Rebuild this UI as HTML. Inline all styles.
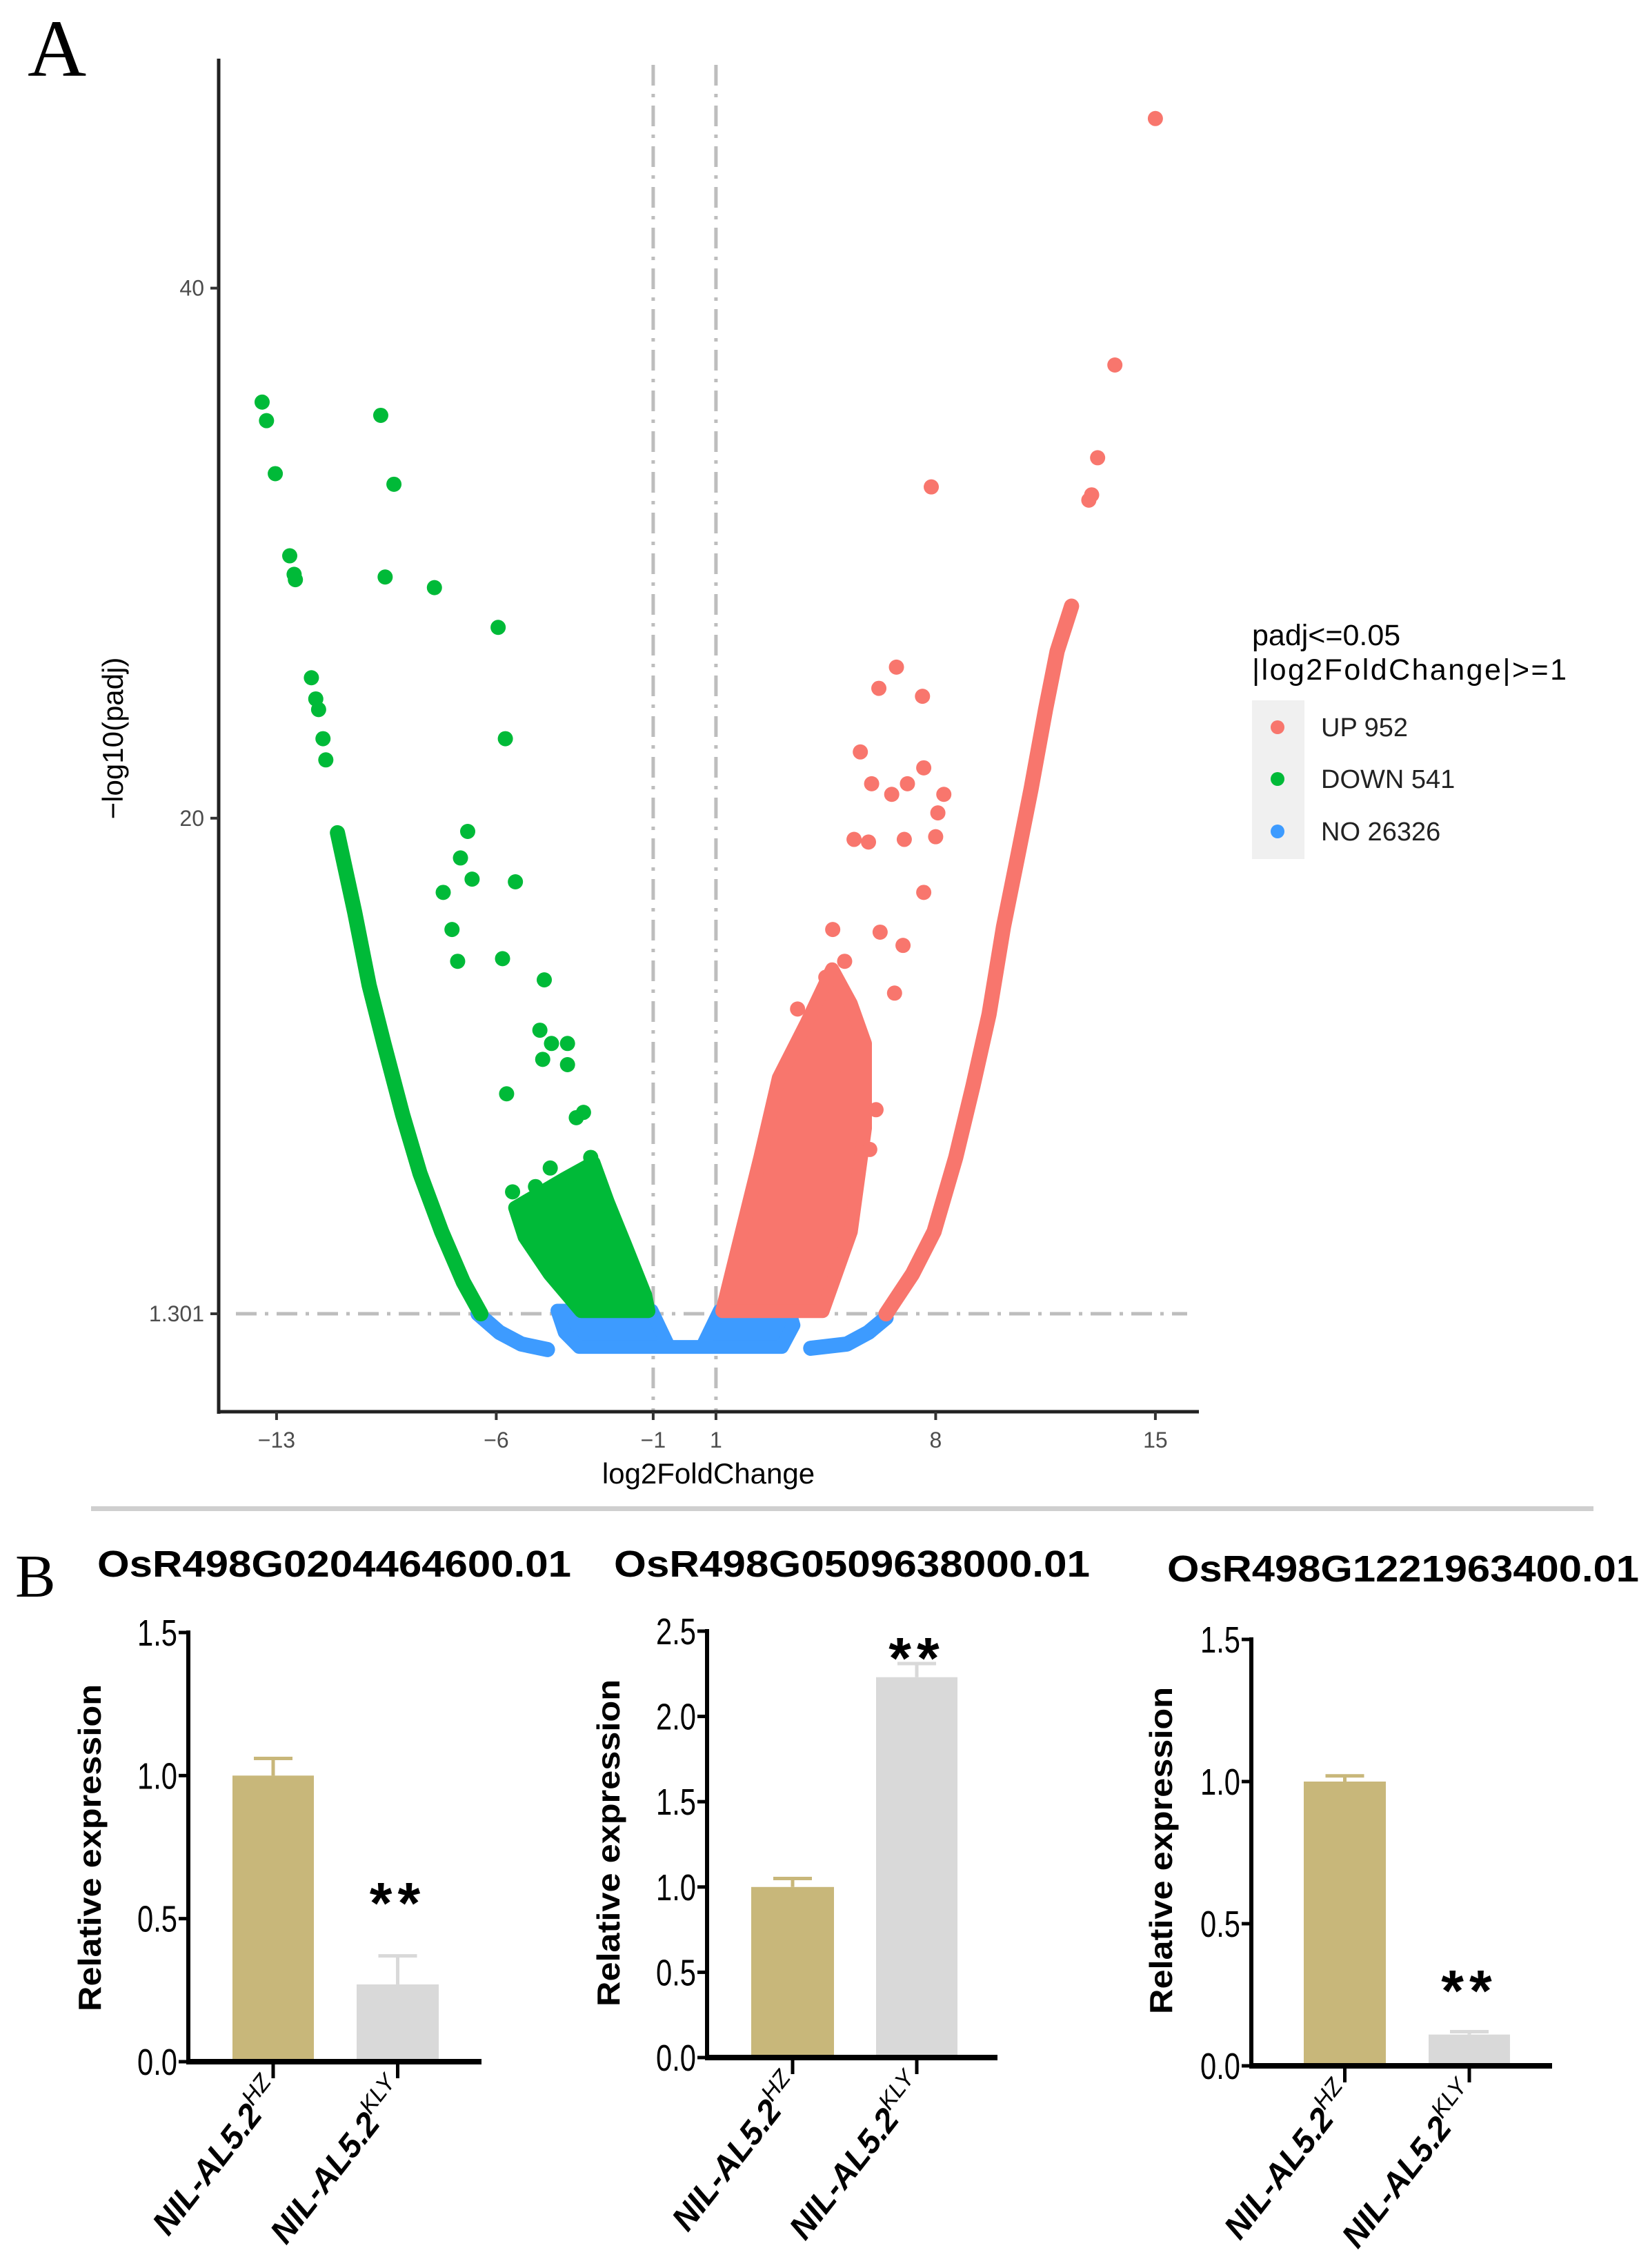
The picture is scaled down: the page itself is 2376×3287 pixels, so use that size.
<!DOCTYPE html>
<html><head><meta charset="utf-8">
<style>
html,body{margin:0;padding:0;background:#fff;}
svg{display:block;font-family:"Liberation Sans",sans-serif;}
</style></head>
<body>
<svg id="fig" width="2376" height="3287" viewBox="0 0 2376 3287" xmlns="http://www.w3.org/2000/svg">
<text x="40" y="110" font-family="Liberation Serif" font-size="118" fill="#000">A</text>
<g id="volcano"></g>
<g>
 <text x="1815" y="935" font-size="43" fill="#000">padj&lt;=0.05</text>
 <text x="1815" y="985" font-size="43" fill="#000" textLength="456">|log2FoldChange|&gt;=1</text>
 <rect x="1815" y="1015" width="76" height="230" fill="#f0f0f0"/>
 <circle cx="1852" cy="1054" r="10" fill="#F8766D"/>
 <circle cx="1852" cy="1129" r="10" fill="#00BA38"/>
 <circle cx="1852" cy="1205" r="10" fill="#3d9bff"/>
 <text x="1915" y="1067" font-size="38" fill="#222">UP 952</text>
 <text x="1915" y="1142" font-size="38" fill="#222">DOWN 541</text>
 <text x="1915" y="1218" font-size="38" fill="#222">NO 26326</text>
</g>
<rect x="132" y="2183" width="2178" height="7" fill="#cfcfcf"/>
<text x="22" y="2314" font-family="Liberation Serif" font-size="88" fill="#000">B</text>
<g id="bars"></g>
</svg>
<script>
// ---------- Volcano data (log2FoldChange, -log10 padj) ----------
const xTicks = [-13, -6, -1, 1, 8, 15];
const yTicks = [40, 20, 1.301];
const vLines = [-1, 1];
const hLine = 1.301;
const greenDots = [[-13.46,35.7],[-13.32,35.0],[-13.04,33.0],[-12.58,29.9],[-12.44,29.2],[-12.40,29.0],[-11.89,25.3],[-11.75,24.5],[-11.66,24.1],[-11.52,23.0],[-11.43,22.2],[-9.68,35.2],[-9.26,32.6],[-9.54,29.1],[-7.97,28.7],[-5.94,27.2],[-5.71,23.0],[-6.91,19.5],[-7.14,18.5],[-7.69,17.2],[-6.77,17.7],[-7.41,15.8],[-5.39,17.6],[-7.23,14.6],[-5.80,14.7],[-4.47,13.9],[-4.61,12.0],[-4.24,11.5],[-3.73,11.5],[-4.52,10.9],[-3.73,10.7],[-5.67,9.6],[-3.22,8.9],[-3.45,8.7],[-4.28,6.8],[-5.48,5.9],[-4.75,6.1],[-2.99,7.2],[-3.13,6.6]];
const greenArm = [[-11.06,19.45],[-10.51,16.45],[-10.05,13.7],[-9.58,11.5],[-8.98,8.8],[-8.43,6.6],[-7.74,4.4],[-7.05,2.5],[-6.49,1.3]];
const greenCluster = [[-5.4,5.3],[-3.82,6.4],[-2.9,7.0],[-2.44,5.5],[-1.89,3.9],[-1.25,2.0],[-1.15,1.4],[-3.3,1.4],[-4.3,2.8],[-5.1,4.2]];
const redDots = [[15.0,46.4],[13.71,37.1],[13.16,33.6],[12.97,32.2],[12.88,32.0],[7.86,32.5],[6.75,25.7],[6.19,24.9],[7.58,24.6],[5.6,22.5],[5.96,21.3],[7.62,21.9],[6.6,20.9],[8.26,20.9],[7.1,21.3],[8.07,20.2],[5.4,19.2],[5.86,19.1],[7.0,19.2],[8.0,19.3],[7.62,17.2],[6.23,15.7],[6.96,15.2],[6.69,13.4],[4.72,15.8],[5.1,14.6],[4.5,14.0],[3.6,12.8],[5.2,10.5],[6.1,9.0],[4.8,6.0],[5.9,7.5]];
const redArm = [[6.42,1.3],[7.26,2.8],[7.95,4.4],[8.64,7.2],[9.19,9.9],[9.70,12.6],[10.16,15.9],[10.62,18.6],[11.04,21.1],[11.50,24.1],[11.87,26.3],[12.33,28.0]];
const redCluster = [[1.2,1.4],[1.72,3.9],[2.41,7.2],[3.0,10.2],[3.9,12.3],[4.7,14.3],[5.3,13.0],[5.75,11.5],[5.75,8.3],[5.3,4.4],[4.4,1.4]];
const blueCluster = [[-4.05,1.42],[-1.05,1.42],[-0.5,0.05],[0.56,0.05],[1.12,1.42],[3.33,1.42],[3.47,0.87],[3.1,0.05],[-3.36,0.05],[-3.82,0.6]];
const blueLeftArm = [[-6.58,1.3],[-5.9,0.6],[-5.2,0.16],[-4.37,-0.05]];
const blueRightArm = [[4.02,0],[5.17,0.16],[5.86,0.6],[6.42,1.15]];

// ---------- Bar chart data ----------
const geneTitles = ["OsR498G0204464600.01","OsR498G0509638000.01","OsR498G1221963400.01"];
const barCats = ["HZ","KLY"];
const hzValues = [1.0, 1.0, 1.0];
const hzErrors = [0.06, 0.05, 0.02];
const klyValues = [0.27, 2.23, 0.11];
const klyErrors = [0.10, 0.08, 0.01];
const yMaxes = [1.5, 2.5, 1.5];
const tickSets = [["0.0","0.5","1.0","1.5"],["0.0","0.5","1.0","1.5","2.0","2.5"],["0.0","0.5","1.0","1.5"]];

const NS = "http://www.w3.org/2000/svg";
function mk(tag, attrs, parent){const e=document.createElementNS(NS,tag);for(const k in attrs)e.setAttribute(k,attrs[k]);parent.appendChild(e);return e;}

const vx = v => 992.4 + v*45.5;
const vy = v => 1954 - v*38.41;
const V = document.getElementById('volcano');
const pts = a => a.map(p=>vx(p[0]).toFixed(1)+","+vy(p[1]).toFixed(1)).join(" ");

vLines.forEach(v=>{
  const l=mk('line',{x1:vx(v),x2:vx(v),y1:94,y2:2047,stroke:'#bdbdbd','stroke-width':5,'stroke-dasharray':'30 12 5 12'},V);
  
  
});
const hl=mk('line',{x1:342,x2:1721,y1:vy(hLine),y2:vy(hLine),stroke:'#bdbdbd','stroke-width':5,'stroke-dasharray':'30 12 5 12'},V);



function region(arr,color,name){
  const p=mk('polygon',{points:pts(arr),fill:color,stroke:color,'stroke-width':20,'stroke-linejoin':'round'},V);
  
  
}
function arm(arr,color,name){
  const p=mk('polyline',{points:pts(arr),fill:'none',stroke:color,'stroke-width':22,'stroke-linejoin':'round','stroke-linecap':'round'},V);
  
  
}
function dots(arr,color,name){
  arr.forEach(d=>{
    const c=mk('circle',{cx:vx(d[0]),cy:vy(d[1]),r:11,fill:color},V);
    
    
  });
}
region(blueCluster,'#3d9bff','no-cluster');
arm(blueLeftArm,'#3d9bff','no-left-arm');
arm(blueRightArm,'#3d9bff','no-right-arm');
region(greenCluster,'#00BA38','down-cluster');
arm(greenArm,'#00BA38','down-arm');
dots(greenDots,'#00BA38','down-point');
region(redCluster,'#F8766D','up-cluster');
arm(redArm,'#F8766D','up-arm');
dots(redDots,'#F8766D','up-point');

const ya=mk('line',{x1:317,x2:317,y1:85,y2:2049,stroke:'#222','stroke-width':5},V);


const xa=mk('line',{x1:315,x2:1738,y1:2046,y2:2046,stroke:'#222','stroke-width':5},V);


xTicks.forEach(t=>{
  const l=mk('line',{x1:vx(t),x2:vx(t),y1:2046,y2:2058,stroke:'#333','stroke-width':4},V);
  
  
  const tx=mk('text',{x:vx(t),y:2098,'font-size':32,fill:'#4d4d4d','text-anchor':'middle'},V);
  tx.textContent=(t<0?'\u2212'+(-t):String(t));
  
  
});
yTicks.forEach(t=>{
  const l=mk('line',{x1:305,x2:317,y1:vy(t),y2:vy(t),stroke:'#333','stroke-width':4},V);
  
  
  const tx=mk('text',{x:296,y:vy(t)+11,'font-size':32,fill:'#4d4d4d','text-anchor':'end'},V);
  tx.textContent=String(t);
  
  
});
const xt=mk('text',{x:1027,y:2150,'font-size':42,fill:'#000','text-anchor':'middle'},V);
xt.textContent='log2FoldChange';


const yt=mk('text',{x:0,y:0,'font-size':42,fill:'#000','text-anchor':'middle',transform:'translate(178,1070) rotate(-90)'},V);
yt.textContent='\u2212log10(padj)';



// ---------- bars ----------
const B=document.getElementById('bars');
const panels=[
 {ax:273,y0:2988,yTop:2366,xEnd:698,b1:[337,455],b2:[517,636],title:[141,2285,687],ylab:[130,2678],star:2735},
 {ax:1025,y0:2982,yTop:2364,xEnd:1446,b1:[1089,1209],b2:[1270,1388],title:[890,2285,690],ylab:[882,2671],star:2380},
 {ax:1814,y0:2994,yTop:2376,xEnd:2250,b1:[1890,2009],b2:[2071,2189],title:[1692,2292,684],ylab:[1683,2682],star:2862}
];
panels.forEach((P,i)=>{
  const g=mk('g',{},B);
  
  
  const sy=v=>P.y0-(v/yMaxes[i])*(P.y0-P.yTop);
  const t=mk('text',{x:P.title[0],y:P.title[1],'font-size':54,'font-weight':'bold',fill:'#000',textLength:P.title[2],lengthAdjust:'spacingAndGlyphs'},g);
  t.textContent=geneTitles[i];
  
  
  [[P.b1,hzValues[i],hzErrors[i],'#c8b77a'],[P.b2,klyValues[i],klyErrors[i],'#d9d9d9']].forEach((b,j)=>{
    const x1=b[0][0],x2=b[0][1],cx=(x1+x2)/2;
    const e=mk('path',{d:`M${cx},${sy(b[1])} V${sy(b[1]+b[2])} M${cx-28},${sy(b[1]+b[2])} H${cx+28}`,stroke:b[3],'stroke-width':5,fill:'none'},g);
    
    
    const r=mk('rect',{x:x1,y:sy(b[1]),width:x2-x1,height:P.y0-sy(b[1]),fill:b[3]},g);
    
    
  });
  const ay=mk('line',{x1:P.ax,x2:P.ax,y1:P.yTop-3,y2:P.y0,stroke:'#000','stroke-width':6},g);
  
  
  const axx=mk('line',{x1:P.ax-3,x2:P.xEnd,y1:P.y0,y2:P.y0,stroke:'#000','stroke-width':8},g);
  
  
  tickSets[i].forEach(tl=>{
    const v=parseFloat(tl);
    const tk=mk('line',{x1:P.ax-14,x2:P.ax,y1:sy(v),y2:sy(v),stroke:'#000','stroke-width':5},g);
    
    
    const tx=mk('text',{x:P.ax-16,y:sy(v)+19,'font-size':54,fill:'#000','text-anchor':'end',textLength:58,lengthAdjust:'spacingAndGlyphs'},g);
    tx.textContent=tl;
    
    
  });
  const yl=mk('text',{x:0,y:0,'font-size':46,'font-weight':'bold',fill:'#000','text-anchor':'middle',textLength:474,lengthAdjust:'spacingAndGlyphs',transform:`translate(${P.ylab[0]+16},${P.ylab[1]}) rotate(-90)`},g);
  yl.textContent='Relative expression';
  
  
  [P.b1,P.b2].forEach((b,j)=>{
    const cx=(b[0]+b[1])/2;
    const tk=mk('line',{x1:cx,x2:cx,y1:P.y0,y2:P.y0+24,stroke:'#000','stroke-width':5},g);
    
    
    const tx=mk('text',{x:0,y:0,'font-size':48,'font-weight':'bold','font-style':'italic',fill:'#000','text-anchor':'end',transform:`translate(${cx+14},${P.y0+42}) rotate(-52)`},g);
    
    
    const s1=mk('tspan',{},tx); s1.textContent='NIL-AL5.2';
    const s2=mk('tspan',{dy:-20,'font-size':34,'font-weight':'normal'},tx); s2.textContent=barCats[j];
  });
  const starX=(P.b2[0]+P.b2[1])/2;
  const st=mk('text',{x:starX,y:P.star+52,'font-size':84,'font-weight':'bold',fill:'#000','text-anchor':'middle','letter-spacing':'8'},g);
  st.textContent='**';
  
  
});
</script>
</body></html>
